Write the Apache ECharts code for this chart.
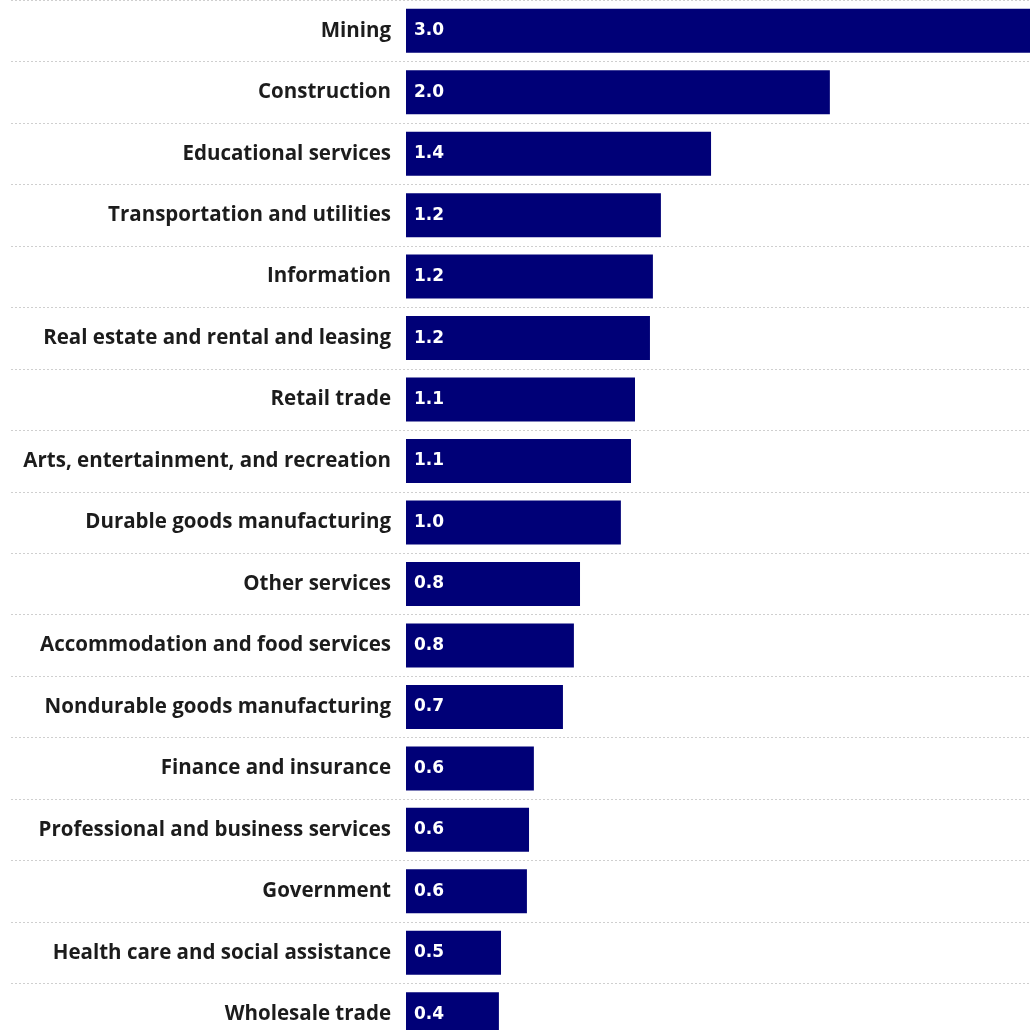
<!DOCTYPE html>
<html>
<head>
<meta charset="utf-8">
<script src="https://cdn.jsdelivr.net/npm/echarts@6/dist/echarts.min.js"></script>
<style>
html,body{margin:0;padding:0;background:#fff;overflow:hidden;}
#chart{width:1030px;height:1045px;}
</style>
</head>
<body>
<div id="chart"></div>
<script>
const categories = [
  "Mining",
  "Construction",
  "Educational services",
  "Transportation and utilities",
  "Information",
  "Real estate and rental and leasing",
  "Retail trade",
  "Arts, entertainment, and recreation",
  "Durable goods manufacturing",
  "Other services",
  "Accommodation and food services",
  "Nondurable goods manufacturing",
  "Finance and insurance",
  "Professional and business services",
  "Government",
  "Health care and social assistance",
  "Wholesale trade"
];
const values = [2.962, 2.012, 1.448, 1.21, 1.172, 1.158, 1.087, 1.068, 1.02, 0.826, 0.797, 0.745, 0.607, 0.584, 0.574, 0.451, 0.441];

const chart = echarts.init(document.getElementById('chart'));
chart.setOption({
  animation: false,
  grid: [
    {left: 406, right: 0, top: 0, bottom: 0},
    {left: 11, right: 0, top: 0, bottom: 0}
  ],
  xAxis: [
    {gridIndex: 0, type: 'value', min: 0, max: values[0], show: false},
    {gridIndex: 1, type: 'value', min: 0, max: 1, show: false}
  ],
  yAxis: [
    {
      gridIndex: 0, type: 'category', data: categories, inverse: true,
      axisLine: {show: false}, axisTick: {show: false}, splitLine: {show: false},
      axisLabel: {
        margin: 15, color: '#1c1c1c', fontFamily: 'Open Sans', fontWeight: 700, fontSize: 20.5
      }
    },
    {
      gridIndex: 1, type: 'category', data: categories, inverse: true,
      axisLine: {show: false}, axisTick: {show: false}, axisLabel: {show: false},
      splitLine: {show: true, lineStyle: {color: '#cfcfcf', width: 1, type: [2, 2]}}
    }
  ],
  series: [
    {
      type: 'bar', xAxisIndex: 0, yAxisIndex: 0, data: values,
      barWidth: 44, z: 3,
      itemStyle: {color: '#000077'},
      label: {
        show: true, position: 'insideLeft', distance: 8,
        color: '#fff', fontFamily: 'DejaVu Sans', fontWeight: 'bold', fontSize: 17,
        formatter: p => p.value.toFixed(1)
      }
    }
  ]
});
</script>
</body>
</html>
